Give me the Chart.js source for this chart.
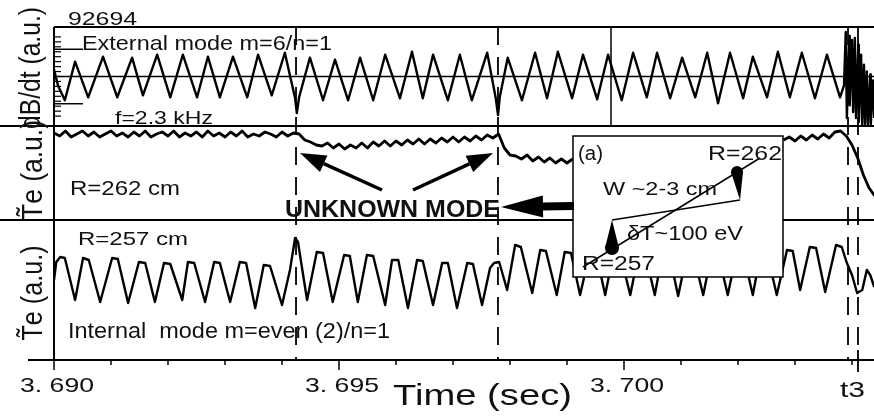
<!DOCTYPE html>
<html><head><meta charset="utf-8">
<script src="https://cdn.jsdelivr.net/npm/chart.js@4.4.0/dist/chart.umd.min.js"></script>
<style>html,body{margin:0;padding:0;background:#fff;}#wrap{width:874px;height:418px;}</style>
</head><body><div id="wrap"><canvas id="c" width="874" height="418"></canvas></div>
<script>
// ---------- DATA (time in ms, signals in arbitrary units) ----------
const topTimeMs = [3690.00,3690.07,3690.19,3690.37,3690.60,3690.86,3691.11,3691.37,3691.56,3691.81,3692.04,3692.26,3692.51,3692.70,3692.91,3693.14,3693.39,3693.58,3693.82,3694.05,3694.23,3694.26,3694.30,3694.49,3694.72,3694.93,3695.16,3695.37,3695.60,3695.81,3696.07,3696.28,3696.47,3696.65,3696.91,3697.12,3697.33,3697.60,3697.75,3697.79,3697.82,3697.96,3698.21,3698.44,3698.65,3698.84,3699.09,3699.28,3699.53,3699.72,3699.96,3700.16,3700.40,3700.58,3700.81,3701.02,3701.25,3701.46,3701.65,3701.86,3702.09,3702.26,3702.51,3702.70,3702.91,3703.12,3703.35,3703.56,3703.79,3703.86,3703.89,3703.91,3703.95,3703.96,3704.00,3704.02,3704.05,3704.07,3704.11,3704.12,3704.16,3704.18,3704.21,3704.23,3704.26,3704.28,3704.32,3704.33,3704.37,3704.39];
const topSignal = [7,-9,-24,15,-21,20,-21,19,-19,22,-21,22,-21,20,-21,20,-21,22,-19,24,-22,-37,-21,19,-24,17,-24,19,-24,22,-22,25,-22,22,-24,22,-24,24,-22,-39,-21,19,-24,24,-22,25,-22,22,-23,22,-24,24,-21,24,-22,19,-21,24,-27,24,-22,20,-21,25,-21,24,-22,22,-21,-9,45,-42,41,-29,37,-36,39,-42,32,-46,22,-49,12,-48,5,-49,2,-48,-4,-42];

const midStartMs = 3690.0;
const midStepMs = 0.1;
const midSignal = [87,84,89,83,86,89,84,88,83,86,89,84,87,83,88,84,89,83,86,88,84,89,83,87,84,88,83,89,84,87,83,88,84,89,83,86,84,88,86,83,88,84,87,
 86,80,78,75,74,77,72,76,71,75,72,77,72,78,74,79,74,79,75,80,76,81,76,81,77,82,78,83,78,83,79,84,80,85,82,86,72,65,64,61,65,59,63,58,62,57,61,57,61,
 null,null,null,null,null,null,null,null,null,null,null,null,null,null,null,null,null,null,null,null,null,null,null,null,null,null,null,null,null,null,null,null,null,null,null,null,
 80,83,79,84,80,85,81,86,82,88,89,84,75,62,45,32,24];

const botTimeMs = [3690.00,3690.04,3690.11,3690.19,3690.37,3690.51,3690.61,3690.81,3691.02,3691.12,3691.30,3691.49,3691.60,3691.77,3691.93,3692.04,3692.25,3692.35,3692.46,3692.65,3692.81,3692.91,3693.09,3693.26,3693.37,3693.53,3693.68,3693.79,3694.00,3694.14,3694.23,3694.28,3694.44,3694.61,3694.72,3694.89,3695.09,3695.19,3695.33,3695.49,3695.60,3695.81,3695.93,3696.04,3696.21,3696.37,3696.47,3696.65,3696.81,3696.91,3697.07,3697.25,3697.35,3697.51,3697.65,3697.72,3697.81,3697.95,3698.09,3698.19,3698.39,3698.53,3698.63,3698.82,3698.96,3699.07,3699.23,3699.40,3699.51,3699.67,3699.82,3699.93,3700.11,3700.26,3700.37,3700.54,3700.68,3700.79,3700.95,3701.11,3701.21,3701.39,3701.54,3701.65,3701.82,3701.98,3702.09,3702.26,3702.40,3702.51,3702.68,3702.86,3702.96,3703.09,3703.26,3703.37,3703.53,3703.72,3703.82,3703.91,3704.00,3704.09,3704.18,3704.26,3704.32,3704.39];
const botSignal = [80,98,103,102,60,102,100,58,102,101,57,98,97,58,97,96,60,98,97,58,98,97,58,98,97,52,95,94,55,90,122,118,60,108,107,58,105,104,58,105,104,55,100,100,52,100,99,55,97,97,52,97,96,55,92,97,98,70,115,113,67,110,109,65,108,107,65,108,107,65,108,107,65,108,107,65,108,107,64,108,107,65,108,107,65,108,107,65,108,107,65,110,109,70,113,112,68,115,113,97,85,67,70,90,85,73];

const xTickMs = [3690,3691,3692,3693,3694,3695,3696,3697,3698,3699,3700,3701,3702,3703,3704];
const xMajorMs = [3690,3695,3700];
const xTickLabels = ['3. 690','3. 695','3. 700'];
const t3Ms = 3704.105;
const t3Label = 't3';
const dashedMarkersMs = [3694.246,3697.789,3703.930,3704.105];
const topMarkerMs = 3699.772;
const xMinMs = 3690, xMaxMs = 3704.386;

// ---------- build ----------
const topData = topTimeMs.map((t,i)=>({x:t,y:topSignal[i]}));
const midData = midSignal.map((v,i)=>({x:midStartMs+i*midStepMs,y:v}));
const botData = botTimeMs.map((t,i)=>({x:t,y:botSignal[i]}));

const FONT = '"Liberation Sans", Arial, Helvetica, sans-serif';

const texts = [
  {s:'92694', x:68, y:25, size:18, w:69},
  {s:'External mode m=6/n=1', x:82, y:50, size:21, w:250},
  {s:'f=2.3 kHz', x:115, y:124, size:19, w:98},
  {s:'R=262 cm', x:70, y:195, size:21, w:110},
  {s:'UNKNOWN MODE', x:285, y:217, size:24, w:215, bold:true},
  {s:'R=257 cm', x:78, y:245, size:19, w:110},
  {s:'Internal  mode m=even (2)/n=1', x:68, y:338, size:22, w:322},
  {s:'Time (sec)', x:393, y:405, size:30, w:179},
  {s:'(a)', x:578, y:160, size:20, w:25},
  {s:'R=262', x:708, y:160, size:21, w:74},
  {s:'W ~2-3 cm', x:603, y:195, size:19, w:114},
  {s:'\u03b4T~100 eV', x:627, y:240, size:21, w:116},
  {s:'R=257', x:582, y:270, size:20, w:73}
];
const rotTexts = [
  {s:'dB/dt (a.u.)', x:40, y:68, size:24, len:122, sx:1.2},
  {s:'T\u0303e (a.u.)', x:42, y:170, size:24, len:100, sx:1.2},
  {s:'T\u0303e (a.u.)', x:42, y:293, size:24, len:95, sx:1.2}
];

const overlay = {
  id:'overlay',
  afterDatasetsDraw(chart){
    const ctx = chart.ctx, ca = chart.chartArea;
    const xs = chart.scales.x, yT = chart.scales.yTop, yM = chart.scales.yMid;
    ctx.save();
    ctx.strokeStyle = '#000'; ctx.fillStyle = '#000'; ctx.lineCap = 'butt';
    const line = (x1,y1,x2,y2,w)=>{ctx.lineWidth=w;ctx.beginPath();ctx.moveTo(x1,y1);ctx.lineTo(x2,y2);ctx.stroke();};
    const y0 = yT.getPixelForValue(0);
    line(ca.left,y0,ca.right,y0,1.5);
    const xm = xs.getPixelForValue(topMarkerMs);
    line(xm,yT.top,xm,yT.bottom,1.5);
    ctx.setLineDash([18,12]);
    dashedMarkersMs.forEach(v=>{const x=xs.getPixelForValue(v);line(x,ca.top,x,ca.bottom,1.8);});
    ctx.setLineDash([]);
    line(ca.left,yT.top,ca.right,yT.top,2);
    line(0,yT.bottom,ca.right,yT.bottom,2);
    line(0,yM.bottom,ca.right,yM.bottom,2);
    line(28,ca.bottom,ca.right,ca.bottom,2);
    line(ca.left,ca.top,ca.left,ca.bottom,2);
    for(let v=-40; v<=40; v+=5){const y=yT.getPixelForValue(v);line(ca.left,y,ca.left+7,y,1.2);}
    [27.5,-27.5].forEach(v=>{const y=yT.getPixelForValue(v);line(ca.left,y,ca.left+29,y,1.5);});
    xTickMs.forEach(v=>{const x=xs.getPixelForValue(v);const mj=xMajorMs.includes(v);line(x,ca.bottom,x,ca.bottom+(mj?10:5),1.5);});
    const xt3 = xs.getPixelForValue(t3Ms);
    line(xt3,ca.bottom-10,xt3,ca.bottom+12,1.8);
    const ib={x:573,y:136,w:210,h:141};
    ctx.fillStyle='#fff';ctx.fillRect(ib.x,ib.y,ib.w,ib.h);
    ctx.fillStyle='#000';ctx.lineWidth=1.5;ctx.strokeRect(ib.x,ib.y,ib.w,ib.h);
    line(583,267,760,158,1.5);
    line(612,220,740,200,1.5);
    const drop=(cx,cy,r,tx,ty)=>{ctx.beginPath();ctx.arc(cx,cy,r,0,Math.PI*2);ctx.fill();
      ctx.beginPath();ctx.moveTo(cx-r,cy);ctx.lineTo(cx+r,cy);ctx.lineTo(tx,ty);ctx.closePath();ctx.fill();};
    drop(737,172,6,740,200);
    drop(612,248,7,612,220);
    const arrow=(x1,y1,x2,y2,sw,hl,hw)=>{const a=Math.atan2(y2-y1,x2-x1);
      const bx=x2-hl*Math.cos(a),by=y2-hl*Math.sin(a);
      line(x1,y1,bx,by,sw);
      ctx.beginPath();ctx.moveTo(x2,y2);ctx.lineTo(bx+hw*Math.sin(a),by-hw*Math.cos(a));ctx.lineTo(bx-hw*Math.sin(a),by+hw*Math.cos(a));ctx.closePath();ctx.fill();};
    arrow(382,190,300,153,3.5,26,9);
    arrow(413,190,493,153,3.5,26,9);
    arrow(574,206,501,207,8,42,11);
    ctx.textBaseline='alphabetic';ctx.textAlign='left';ctx.fillStyle='#111';
    const drawT=(t)=>{ctx.font=(t.bold?'bold ':'')+t.size+'px '+FONT;const m=ctx.measureText(t.s).width;
      ctx.save();ctx.translate(t.x,t.y);ctx.scale(t.w/m,1);ctx.fillText(t.s,0,0);ctx.restore();};
    texts.forEach(drawT);
    xMajorMs.forEach((v,i)=>{const x=xs.getPixelForValue(v);drawT({s:xTickLabels[i],x:x-34,y:392,size:21,w:74});});
    drawT({s:t3Label,x:xt3-18,y:397,size:22,w:25});
    rotTexts.forEach(t=>{ctx.save();ctx.font=t.size+'px '+FONT;const m=ctx.measureText(t.s).width;
      ctx.translate(t.x,t.y);ctx.scale(t.sx,1);ctx.rotate(-Math.PI/2);ctx.scale(t.len/m,1);
      ctx.textAlign='center';ctx.textBaseline='alphabetic';ctx.fillText(t.s,0,0);ctx.restore();});
    ctx.restore();
  }
};

const ds = (data,axis,w)=>({data,yAxisID:axis,borderColor:'#000',borderWidth:w,pointRadius:0,tension:0,borderJoinStyle:'round',spanGaps:false});

new Chart(document.getElementById('c'),{
  type:'line',
  data:{datasets:[ds(topData,'yTop',2.4),ds(midData,'yMid',2.8),ds(botData,'yBot',2.4)]},
  options:{
    responsive:false,animation:false,devicePixelRatio:1,parsing:false,
    layout:{padding:{left:54,top:27,right:0,bottom:58}},
    plugins:{legend:{display:false},tooltip:{enabled:false}},
    scales:{
      x:{type:'linear',min:xMinMs,max:xMaxMs,display:false},
      yTop:{type:'linear',position:'left',stack:'panels',stackWeight:99,weight:3,min:-50,max:50,display:false},
      yMid:{type:'linear',position:'left',stack:'panels',stackWeight:94,weight:2,min:0,max:94,display:false},
      yBot:{type:'linear',position:'left',stack:'panels',stackWeight:140,weight:1,min:0,max:140,display:false}
    }
  },
  plugins:[overlay]
});
</script></body></html>
